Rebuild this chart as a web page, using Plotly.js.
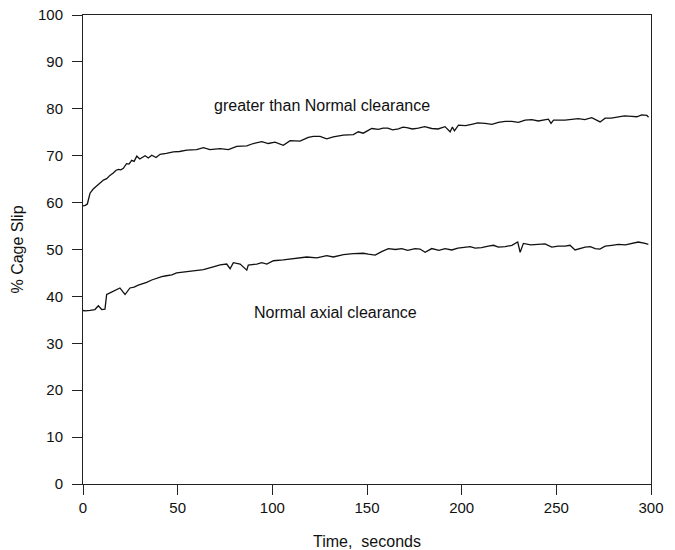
<!DOCTYPE html>
<html>
<head>
<meta charset="utf-8">
<script src="https://cdn.plot.ly/plotly-3.0.1.min.js"></script>
<style>html,body{margin:0;padding:0;background:#fff;}#chart{width:675px;height:550px;}</style>
</head>
<body>
<div id="chart"></div>
<script>
// greater than Normal clearance
var upperTime = [0,1.2,2.3,3.7,5.4,7,9,10.8,12.5,14.2,
  16,17.5,18.7,20,21.3,23,24.3,25.7,27,28.4,
  30,31.4,32.8,34.5,36.3,38.6,40.7,44,47.7,51,
  54.8,60,63.6,67,72.4,76.8,81.2,86.5,90,94.4,
  97.9,101.4,105.8,109.4,114.6,119,121.7,125.2,128.7,132.2,
  137.5,142.8,145.4,148,150,152.5,
  156,158.5,161,163.5,166.6,169,171,174,177.1,180.5,
  184.2,187.5,191.2,193.9,195.1,196.2,198.3,202,205.3,208.5,
  212.4,216,219.4,223,226.5,230,233.5,237,240.5,245.8,
  247.2,248.5,254.6,258,261.6,265,268.7,273.1,275.8,279,
  282.8,286,289.9,292.5,295.1,297.8,298.7];
var upperSlip = [59.3,59.4,59.7,62.0,62.9,63.5,64.3,64.8,65.1,65.8,
  66.3,66.9,67.1,67.0,67.3,68.3,68.2,69.0,68.8,69.9,
  69.3,69.6,70.0,69.5,70.1,69.6,70.3,70.5,70.8,70.9,
  71.2,71.3,71.7,71.3,71.5,71.3,72.0,72.1,72.6,73.0,
  72.6,72.9,72.2,73.2,73.1,73.9,74.1,74.1,73.6,74.0,
  74.4,74.5,75.1,74.8,75.3,75.8,
  75.6,75.9,75.9,75.5,75.7,76.1,76.0,75.7,75.9,76.2,
  75.8,75.7,76.2,75.1,76.1,75.3,76.5,76.4,76.7,77.0,
  76.9,76.7,77.1,77.3,77.3,77.1,77.6,77.7,77.4,77.8,
  76.9,77.6,77.6,77.8,77.9,77.7,78.1,77.2,78.0,78.0,
  78.2,78.5,78.4,78.3,78.7,78.6,78.2];
// Normal axial clearance
var lowerTime = [0,1.1,3.7,6.3,8.1,9.9,11.6,12.5,14,16,
  18,19.5,21,22.2,24.8,27,29.2,31,33.6,36.3,
  39,41.6,44,46.9,49.5,53,58.3,63.6,68.8,72.4,
  75.9,77.7,79.4,83,86.5,87.3,91.8,94.4,97.1,100.6,
  105.8,111.1,118.2,123.5,128.7,132.2,137.5,142.8,148.1,
  150.7,154.3,158,161.3,165,168.4,171.5,175.4,178,180.7,
  184.2,188,191.2,194.8,198,201.8,204.5,207.1,210.5,214.1,
  216.8,219.4,223,226.5,229.6,230.9,232.6,236.5,240.5,244,
  247.6,251,254.6,257.2,259.9,262.5,265.2,268,270.5,273,
  275.8,279.3,282.8,286.5,289.9,293.3,296.9,298.6];
var lowerSlip = [37.0,36.9,37.0,37.2,38.0,37.2,37.3,40.4,40.7,41.1,
  41.5,41.8,41.0,40.4,41.8,42.0,42.4,42.6,43.0,43.5,
  43.9,44.2,44.4,44.6,45.0,45.2,45.4,45.7,46.3,46.7,
  46.9,45.9,47.2,46.9,45.6,46.7,46.9,47.2,46.9,47.6,
  47.8,48.0,48.4,48.2,48.7,48.4,48.9,49.1,49.2,
  49.0,48.8,49.6,50.2,50.0,50.2,49.8,50.2,50.1,49.4,
  50.2,49.8,50.2,49.9,50.3,50.5,50.6,50.3,50.4,50.7,
  50.9,50.5,50.6,50.9,51.6,49.4,51.3,51.0,51.1,51.2,
  50.5,50.7,50.7,50.9,49.9,50.2,50.5,50.6,50.2,50.1,
  50.7,50.9,51.1,51.0,51.3,51.6,51.3,51.1];

var xTicks = [0,50,100,150,200,250,300];
var yTicks = [0,10,20,30,40,50,60,70,80,90,100];
var labels = ["greater than Normal clearance","Normal axial clearance"];
var labelX = [126.3,133.1];
var labelY = [80.6,36.6];

var FONT = "Liberation Sans, Arial, Helvetica, sans-serif";
var lineStyle = {color:'#111', width:1.3};

var traces = [
  {x:upperTime, y:upperSlip, type:'scatter', mode:'lines', line:lineStyle, hoverinfo:'skip'},
  {x:lowerTime, y:lowerSlip, type:'scatter', mode:'lines', line:lineStyle, hoverinfo:'skip'}
];

var axisCommon = {
  showline:true, mirror:true, linecolor:'#222', linewidth:1,
  ticks:'outside', ticklen:10, tickwidth:1, tickcolor:'#222',
  showgrid:false, zeroline:false, tickmode:'array',
  tickfont:{family:FONT, size:15, color:'#111'}
};

var layout = {
  width:675, height:550,
  margin:{l:83, r:24, t:15, b:66},
  paper_bgcolor:'#fff', plot_bgcolor:'#fff',
  showlegend:false,
  font:{family:FONT, color:'#111'},
  xaxis:Object.assign({}, axisCommon, {
    range:[0,300], tickvals:xTicks, ticktext:xTicks.map(String),
    ticklabelstandoff:0,
    title:{text:'Time,\u00a0 seconds', font:{family:FONT, size:16, color:'#111'}, standoff:22}
  }),
  yaxis:Object.assign({}, axisCommon, {
    range:[0,100], tickvals:yTicks, ticktext:yTicks.map(String),
    ticklabelstandoff:6,
    title:{text:'% Cage Slip', font:{family:FONT, size:16, color:'#111'}, standoff:10}
  }),
  annotations: labels.map(function(t,i){
    return {x:labelX[i], y:labelY[i], xref:'x', yref:'y', text:t, showarrow:false,
      font:{family:FONT, size:16, color:'#111'}, xanchor:'center', yanchor:'middle'};
  })
};

Plotly.newPlot('chart', traces, layout, {staticPlot:true, displayModeBar:false});
</script>
</body>
</html>
